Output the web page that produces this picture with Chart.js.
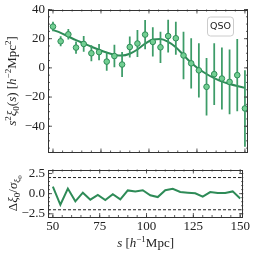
<!DOCTYPE html>
<html>
<head>
<meta charset="utf-8">
<script src="https://cdn.jsdelivr.net/npm/chart.js@4/dist/chart.umd.min.js"></script>
<style>
html,body{margin:0;padding:0;background:#fff;}
#wrap{position:relative;width:253px;height:253px;overflow:hidden;}
.c{position:absolute;left:0;width:253px;}
</style>
</head>
<body>
<div id="wrap">
  <div class="c" style="top:0;height:162px;"><canvas id="top"></canvas></div>
  <div class="c" style="top:160px;height:93px;"><canvas id="bot"></canvas></div>
</div>
<script>
// ---- data ----
const sVals = [50,54,58,62,66,70,74,78,82,86,90,94,98,102,106,110,114,118,122,126,130,134,138,142,146,150];
const xiVals = [28.3,18.2,23.0,13.9,16.4,10.0,10.8,4.3,8.1,2.3,14.3,16.7,22.8,17.8,14.1,21.8,20.3,8.5,3.1,-1.7,-13.0,-4.3,-7.3,-9.6,-5.0,-27.8];
const xiErr = [3.0,3.2,3.4,4.0,5.2,5.2,5.4,6.0,7.5,8.3,7.0,9.0,9.8,9.8,10.5,11.0,11.0,16.0,17.0,18.3,19.5,21.0,21.0,22.0,24.5,26.0];
const modelVals = [26.0,24.0,21.5,19.0,16.8,14.5,12.4,10.5,9.0,8.4,9.7,12.6,16.6,19.5,19.8,17.8,14.2,8.7,3.5,-0.8,-4.2,-7.0,-9.4,-11.0,-12.4,-13.7];
const residVals = [0.87,-1.38,0.63,-0.95,0.12,-0.75,-0.16,-0.80,-0.08,-0.71,0.40,0.26,0.42,-0.20,-0.42,0.42,0.60,0.20,0.12,0.05,-0.36,0.20,0.08,0.08,0.28,-0.60];
const refLevels = [2, -2];
const xTicks = [50,75,100,125,150];
const xMinor = [50,55,60,65,70,75,80,85,90,95,100,105,110,115,120,125,130,135,140,145,150];
const yTicksTop = [-40,-20,0,20,40];
const yMinorTop = [-55,-50,-45,-40,-35,-30,-25,-20,-15,-10,-5,0,5,10,15,20,25,30,35,40];
const yTicksBot = [-2.5,0,2.5];
const yMinorBot = [-2.5,-2,-1.5,-1,-0.5,0,0.5,1,1.5,2,2.5];
const xRange = [47.4, 151.6];
const yRangeTop = [-58, 40];
const yRangeBot = [-2.9, 3.0];
const legendLabel = 'QSO';

// ---- styles ----
const SERIF = '"Liberation Serif", "DejaVu Serif", serif';
const LINE_C = '#2e8b57';
const ERR_C = '#3d9c68';
const FILL_C = '#72cf92';
const FRAME_C = '#333333';

function fmtNum(v, dec){
  const s = Math.abs(v).toFixed(dec);
  return (v < 0 ? '\u2212' : '') + s;
}

function drawRuns(ctx, runs, cx, cy, rot){
  ctx.save();
  ctx.translate(cx, cy);
  ctx.rotate(rot);
  ctx.fillStyle = '#222';
  ctx.textBaseline = 'alphabetic';
  ctx.textAlign = 'left';
  const fontOf = r => (r.it ? 'italic ' : '') + (r.sz || 13) + 'px ' + SERIF;
  let total = 0;
  runs.forEach(r => { ctx.font = fontOf(r); r.w = ctx.measureText(r.t).width; total += r.w; });
  let x = -total/2;
  runs.forEach(r => { ctx.font = fontOf(r); ctx.fillText(r.t, x, 4.5 + (r.dy || 0)); x += r.w; });
  ctx.restore();
}

const framePlugin = {
  id: 'frameTicks',
  afterDraw(chart, args, opts){
    const ctx = chart.ctx;
    const a = chart.chartArea;
    const xs = chart.scales.x, ys = chart.scales.y;
    ctx.save();
    ctx.strokeStyle = FRAME_C;
    ctx.lineWidth = 1;
    ctx.strokeRect(Math.round(a.left)+0.5, Math.round(a.top)+0.5, Math.round(a.right-a.left)-1, Math.round(a.bottom-a.top)-1);
    ctx.lineWidth = 0.8;
    ctx.beginPath();
    const tick = (vals, len, horiz) => {
      vals.forEach(v => {
        if (horiz){
          const px = xs.getPixelForValue(v);
          ctx.moveTo(px, a.bottom); ctx.lineTo(px, a.bottom - len);
          ctx.moveTo(px, a.top); ctx.lineTo(px, a.top + len);
        } else {
          const py = ys.getPixelForValue(v);
          ctx.moveTo(a.left, py); ctx.lineTo(a.left + len, py);
          ctx.moveTo(a.right, py); ctx.lineTo(a.right - len, py);
        }
      });
    };
    tick(opts.xMajor, 4, true);
    tick(opts.xMinor, 2, true);
    tick(opts.yMajor, 4, false);
    tick(opts.yMinor, 2, false);
    ctx.stroke();
    ctx.restore();
    if (opts.titles) opts.titles(ctx, chart);
  }
};

function yScale(range, ticks, dec){
  return {
    type: 'linear', min: range[0], max: range[1],
    afterBuildTicks: s => { s.ticks = ticks.map(v => ({value: v})); },
    afterFit: s => { s.width = 48; },
    grid: {display: false, drawTicks: false},
    border: {display: false},
    ticks: {
      padding: 3, color: '#222',
      font: {family: SERIF, size: 13, lineHeight: 1},
      callback: v => fmtNum(v, dec)
    }
  };
}

// ---- top chart ----
new Chart(document.getElementById('top'), {
  type: 'scatter',
  data: {
    datasets: [
      {
        type: 'scatter', order: 0,
        data: sVals.map((x, i) => ({x: x, y: xiVals[i]})),
        pointRadius: 2.8, pointBorderWidth: 1,
        pointBackgroundColor: FILL_C, pointBorderColor: LINE_C
      },
      {
        type: 'bar', order: 1,
        data: sVals.map((x, i) => ({x: x, y: [xiVals[i] - xiErr[i], xiVals[i] + xiErr[i]]})),
        backgroundColor: ERR_C, borderWidth: 0, barThickness: 1.1, grouped: false
      },
      {
        type: 'line', order: 2,
        data: sVals.map((x, i) => ({x: x, y: modelVals[i]})),
        borderColor: LINE_C, borderWidth: 2, pointRadius: 0,
        cubicInterpolationMode: 'monotone', fill: false
      }
    ]
  },
  options: {
    responsive: true, maintainAspectRatio: false, animation: false,
    devicePixelRatio: 1,
    layout: {padding: {left: 0, right: 4, top: 7, bottom: 5}},
    plugins: {
      legend: {display: false}, tooltip: {enabled: false},
      frameTicks: {
        xMajor: xTicks, xMinor: xMinor, yMajor: yTicksTop, yMinor: yMinorTop,
        titles: (ctx, chart) => {
          const a = chart.chartArea;
          drawRuns(ctx, [
            {t:'s', it:true}, {t:'2', sz:9, dy:-5}, {t:'ξ', it:true}, {t:'0', sz:9, dy:3},
            {t:'('}, {t:'s', it:true}, {t:') ['}, {t:'h', it:true}, {t:'\u22122', sz:9, dy:-5},
            {t:'Mpc'}, {t:'2', sz:9, dy:-5}, {t:']'}
          ], 11, (a.top + a.bottom)/2, -Math.PI/2);
          // legend box
          const bw = 26, bh = 19, bx = a.right - 15 - bw, by = a.top + 7;
          ctx.save();
          ctx.fillStyle = 'rgba(255,255,255,0.8)';
          ctx.strokeStyle = '#cccccc';
          ctx.lineWidth = 1;
          ctx.beginPath();
          ctx.roundRect(bx + 0.5, by + 0.5, bw, bh, 3);
          ctx.fill(); ctx.stroke();
          ctx.fillStyle = '#222';
          ctx.font = '9.5px "DejaVu Sans", sans-serif';
          ctx.textAlign = 'center'; ctx.textBaseline = 'middle';
          ctx.fillText(legendLabel, bx + bw/2 + 0.5, by + bh/2 + 1);
          ctx.restore();
        }
      }
    },
    scales: {
      x: {type: 'linear', min: xRange[0], max: xRange[1], offset: false, display: false},
      y: yScale(yRangeTop, yTicksTop, 0)
    }
  },
  plugins: [framePlugin]
});

// ---- bottom chart ----
new Chart(document.getElementById('bot'), {
  type: 'scatter',
  data: {
    datasets: [
      {
        type: 'line', order: 0,
        data: sVals.map((x, i) => ({x: x, y: residVals[i]})),
        borderColor: LINE_C, borderWidth: 2, pointRadius: 0, tension: 0, fill: false
      },
      {
        type: 'line', order: 1,
        data: xRange.map(x => ({x: x, y: refLevels[0]})),
        borderColor: '#222', borderWidth: 1, borderDash: [3, 2], pointRadius: 0, fill: false
      },
      {
        type: 'line', order: 1,
        data: xRange.map(x => ({x: x, y: refLevels[1]})),
        borderColor: '#222', borderWidth: 1, borderDash: [3, 2], pointRadius: 0, fill: false
      }
    ]
  },
  options: {
    responsive: true, maintainAspectRatio: false, animation: false,
    devicePixelRatio: 1,
    layout: {padding: {left: 0, right: 4, top: 8, bottom: 0}},
    plugins: {
      legend: {display: false}, tooltip: {enabled: false},
      frameTicks: {
        xMajor: xTicks, xMinor: xMinor, yMajor: yTicksBot, yMinor: yMinorBot,
        titles: (ctx, chart) => {
          const a = chart.chartArea;
          drawRuns(ctx, [
            {t:'Δ'}, {t:'ξ', it:true}, {t:'0', sz:9, dy:3}, {t:'/'}, {t:'σ', it:true},
            {t:'ξ', it:true, sz:9, dy:3}, {t:'0', sz:7, dy:5}
          ], 12, (a.top + a.bottom)/2, -Math.PI/2);
          drawRuns(ctx, [
            {t:'s', it:true}, {t:' ['}, {t:'h', it:true}, {t:'\u22121', sz:9, dy:-5}, {t:'Mpc]'}
          ], (a.left + a.right)/2, 82, 0);
        }
      }
    },
    scales: {
      x: {
        type: 'linear', min: xRange[0], max: xRange[1], offset: false,
        afterBuildTicks: s => { s.ticks = xTicks.map(v => ({value: v})); },
        afterFit: s => { s.height = 36; },
        grid: {display: false, drawTicks: false},
        border: {display: false},
        ticks: {padding: 3, color: '#222', maxRotation: 0, autoSkip: false,
                font: {family: SERIF, size: 13, lineHeight: 1},
                callback: v => String(v)}
      },
      y: yScale(yRangeBot, yTicksBot, 1)
    }
  },
  plugins: [framePlugin]
});
</script>
</body>
</html>
